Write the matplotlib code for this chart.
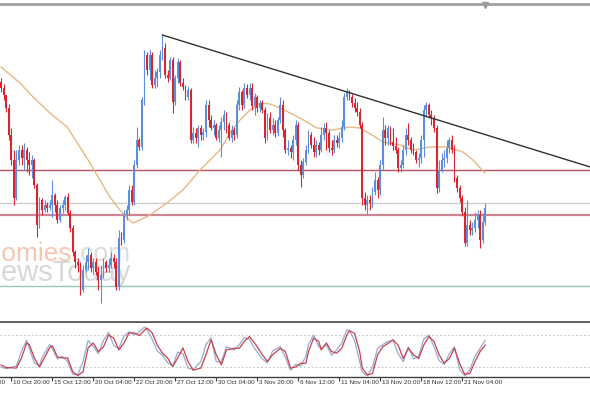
import matplotlib
matplotlib.use("Agg")
import matplotlib.pyplot as plt
import matplotlib.transforms as mtransforms
import numpy as np

# H4 candles, price in points
first_open = 248
closes = [242, 235, 222, 195, 170, 132, 170, 180, 172, 180,
          170, 165, 170, 145, 105, 130, 120, 125, 122, 125,
          135, 125, 110, 122, 125, 133, 117, 102, 78, 68,
          65, 40, 60, 68, 75, 62, 68, 58, 50, 55,
          68, 62, 65, 72, 68, 43, 92, 90, 115, 120,
          140, 128, 165, 190, 183, 230, 275, 260, 275, 245,
          252, 258, 275, 282, 255, 252, 270, 228, 252, 268,
          247, 243, 233, 240, 190, 197, 192, 202, 195, 198,
          225, 210, 202, 205, 192, 200, 208, 215, 205, 192,
          200, 195, 225, 238, 225, 242, 235, 242, 224, 233,
          222, 227, 220, 192, 212, 200, 205, 197, 210, 225,
          200, 180, 182, 178, 190, 205, 165, 155, 168, 180,
          195, 185, 178, 185, 180, 195, 202, 197, 182, 180,
          190, 187, 192, 203, 233, 238, 233, 227, 222, 218,
          205, 132, 125, 130, 127, 138, 150, 140, 165, 200,
          192, 202, 188, 184, 180, 162, 165, 180, 195, 190,
          180, 178, 170, 172, 190, 220, 225, 215, 212, 202,
          142, 160, 170, 172, 182, 190, 180, 152, 142, 132,
          118, 87, 105, 100, 102, 110, 115, 90, 108, 122]
highs = [252, 246, 235, 226, 202, 180, 180, 185, 185, 187,
         183, 178, 175, 172, 147, 133, 132, 130, 128, 130,
         150, 137, 130, 125, 130, 135, 137, 120, 105, 80,
         72, 68, 65, 75, 82, 78, 72, 72, 64, 65,
         72, 70, 72, 78, 76, 72, 100, 98, 120, 125,
         145, 145, 170, 203, 192, 233, 280, 278, 280, 278,
         260, 262, 280, 295, 287, 260, 273, 273, 255, 272,
         270, 252, 245, 244, 242, 203, 202, 205, 205, 202,
         230, 230, 215, 210, 207, 205, 213, 220, 218, 208,
         205, 203, 230, 243, 240, 247, 246, 247, 247, 237,
         235, 230, 230, 223, 217, 218, 212, 210, 213, 233,
         230, 202, 190, 185, 195, 210, 208, 170, 172, 185,
         200, 198, 193, 190, 188, 203, 207, 208, 200, 190,
         195, 195, 198, 210, 237, 242, 240, 236, 232, 228,
         222, 208, 138, 135, 135, 143, 158, 153, 170, 213,
         205, 205, 204, 202, 193, 183, 170, 185, 202, 207,
         193, 187, 180, 177, 195, 225, 228, 227, 220, 215,
         205, 170, 177, 180, 190, 193, 195, 185, 155, 145,
         135, 123, 130, 110, 108, 118, 120, 120, 117, 127]
lows = [238, 230, 218, 190, 165, 125, 130, 165, 165, 160,
        158, 155, 152, 142, 93, 102, 115, 118, 118, 120,
        113, 118, 107, 108, 117, 120, 115, 98, 74, 62,
        58, 35, 38, 58, 60, 58, 55, 55, 40, 27,
        52, 58, 58, 62, 62, 40, 40, 85, 87, 110,
        115, 125, 125, 162, 180, 180, 225, 255, 250, 242,
        242, 243, 252, 270, 252, 248, 250, 217, 225, 247,
        244, 240, 230, 230, 187, 187, 187, 183, 190, 190,
        193, 203, 200, 195, 190, 188, 173, 200, 197, 190,
        188, 190, 192, 220, 220, 222, 232, 230, 220, 215,
        218, 218, 217, 187, 190, 197, 195, 193, 194, 207,
        193, 177, 175, 172, 170, 185, 160, 143, 152, 165,
        177, 182, 173, 173, 175, 178, 190, 180, 178, 175,
        177, 183, 182, 188, 200, 230, 230, 223, 218, 214,
        202, 125, 120, 115, 120, 123, 135, 132, 135, 160,
        185, 185, 185, 180, 177, 158, 158, 162, 175, 185,
        177, 175, 167, 163, 167, 173, 213, 212, 205, 198,
        137, 138, 158, 163, 167, 177, 177, 148, 138, 128,
        114, 84, 84, 95, 95, 98, 102, 82, 87, 105]

# moving average, sampled along the bars
ma_bars = [0, 7.4, 12.5, 19.1, 25.8, 30.8, 34, 38.6, 42.5, 46.4,
           49.2, 51.5, 54.2, 58.1, 64.8, 71, 77.7, 85.5, 89.4, 93.3,
           97.2, 101.1, 105, 108.9, 112.8, 116.7, 123.3, 129.6, 136.2, 140.1,
           144.8, 149.1, 155.7, 160.8, 167.4, 174, 180.3, 184.2, 188.9]
ma_vals = [263, 247, 233, 217, 203, 183, 170, 150, 133, 120,
           112, 107, 110, 115, 127, 140, 160, 180, 197, 210,
           220, 227, 226, 222, 217, 212, 202, 200, 203, 202,
           195, 188, 185, 180, 183, 183, 178, 170, 157]

# stochastic oscillator
stoch_bars = [0, 2, 6, 8, 10, 11, 13, 15, 16, 19,
              20, 22, 24, 26, 28, 30, 32, 34, 36, 38,
              40, 42, 44, 46, 48, 50, 52, 54, 56, 57,
              59, 61, 63, 65, 67, 69, 71, 73, 75, 78,
              80, 82, 84, 86, 88, 91, 93, 95, 97, 99,
              102, 104, 106, 109, 111, 113, 115, 117, 119, 120,
              122, 124, 125, 127, 129, 131, 133, 135, 136, 138,
              140, 141, 143, 145, 147, 149, 151, 153, 155, 157,
              159, 161, 163, 165, 167, 169, 171, 173, 175, 177,
              179, 181, 183, 185, 187, 189]
stoch_d = [24, 19, 18, 37, 65, 62, 37, 20, 29, 56,
           60, 39, 37, 37, 11, 4, 11, 56, 65, 49,
           58, 80, 74, 52, 65, 84, 84, 79, 89, 93,
           84, 61, 46, 37, 21, 37, 56, 30, 14, 18,
           43, 71, 43, 24, 52, 55, 55, 68, 77, 65,
           43, 30, 43, 55, 49, 18, 20, 27, 27, 49,
           74, 68, 52, 65, 49, 46, 55, 80, 88, 83,
           49, 18, 5, 8, 43, 58, 64, 71, 61, 36,
           55, 43, 36, 61, 77, 68, 43, 27, 36, 55,
           27, 6, 8, 30, 49, 61]
stoch_k = [20, 17, 22, 50, 70, 55, 28, 22, 38, 62,
           55, 35, 40, 30, 6, 6, 30, 70, 58, 45,
           70, 85, 60, 55, 78, 86, 80, 86, 95, 90,
           72, 50, 42, 28, 22, 48, 45, 18, 15, 30,
           62, 75, 30, 30, 58, 52, 62, 75, 72, 55,
           35, 28, 50, 58, 38, 14, 25, 22, 40, 62,
           80, 58, 55, 62, 42, 52, 65, 90, 88, 70,
           30, 10, 4, 20, 55, 62, 68, 70, 45, 30,
           58, 35, 40, 72, 80, 58, 32, 25, 45, 58,
           15, 4, 15, 40, 55, 70]

tick_bars = [-12, 4, 20, 36, 52, 68, 84, 100, 116, 132, 148, 164, 180]
tick_labels = ["8 Oct 04:00", "10 Oct 20:00", "15 Oct 12:00", "20 Oct 04:00",
               "22 Oct 20:00", "27 Oct 12:00", "30 Oct 04:00", "3 Nov 20:00",
               "6 Nov 12:00", "11 Nov 04:00", "13 Nov 20:00", "18 Nov 12:00",
               "21 Nov 04:00"]

trend_bars = [63, 230]
trend_prices = [295, 163]
resistance = 160
pivot = 127
support = 115
support_low = 44

plt.rcParams['font.family'] = ['Liberation Sans', 'DejaVu Sans']

fig = plt.figure(figsize=(5.9, 3.93), dpi=100)
ax = fig.add_axes([0, 0.18066, 1, 0.80916])
ax2 = fig.add_axes([0, 0.04071, 1, 0.1374], sharex=ax)

# watermark
ax.text(73 / 590, 1 - 261 / 393, "economies", transform=fig.transFigure,
        ha='right', va='baseline', fontsize=19, color='#f5c6b1', zorder=0)
ax.text(74 / 590, 1 - 261 / 393, ".com", transform=fig.transFigure,
        ha='left', va='baseline', fontsize=19, color='#dcdcdc', zorder=0)
ax.text(131 / 590, 1 - 281 / 393, "NewsToday", transform=fig.transFigure,
        ha='right', va='baseline', fontsize=21, color='#d8d8d8', zorder=0)

# levels
ax.axhline(resistance, color='#b9525f', lw=1, zorder=1)
ax.axhline(pivot, color='#cccccc', lw=1, zorder=1)
ax.axhline(support, color='#cd8593', lw=1.6, zorder=1)
ax.axhline(support_low, color='#93cbbb', lw=1, zorder=1)
ax.plot(trend_bars, trend_prices, color='#303030', lw=1, zorder=4)
ax.plot(ma_bars, ma_vals, color='#e6b982', lw=1, zorder=2)

# candles
n = len(closes)
x = np.arange(n)
opens = [first_open] + closes[:-1]
o = np.array(opens)
c = np.array(closes)
h = np.maximum(np.array(highs), np.maximum(o, c))
l = np.minimum(np.array(lows), np.minimum(o, c))
colors = ['#5b8fdb' if cc >= oo else '#d7262d' for oo, cc in zip(o, c)]
ax.vlines(x, l, h, colors=colors, lw=0.8, zorder=3)
ax.bar(x, np.maximum(np.abs(c - o), 1.2), 0.72, bottom=np.minimum(o, c),
       color=colors, lw=0, zorder=3)

ax.set_xlim(-0.4, 229.9)
ax.set_ylim(8, 326)
for s in ['left', 'right']:
    ax.spines[s].set_visible(False)
ax.spines['top'].set_color('#a0a0a0')
ax.spines['top'].set_linewidth(2)
ax.spines['bottom'].set_color('#5a5a5a')
ax.spines['bottom'].set_linewidth(2)
ax.tick_params(left=False, bottom=False, labelleft=False, labelbottom=False)
ax.plot([189], [325], marker='v', color='#9a9a9a', ms=4, clip_on=False, zorder=5)

# stochastic panel
ax2.axhline(80, color='#c8c8c8', lw=0.7, ls=(0, (2, 2)))
ax2.axhline(20, color='#c8c8c8', lw=0.7, ls=(0, (2, 2)))
ax2.plot(stoch_bars, stoch_k, color='#95acd0', lw=0.9)
ax2.plot(stoch_bars, stoch_d, color='#c8404f', lw=0.9)
ax2.set_ylim(1.25, 102.5)
for s in ['left', 'right', 'top']:
    ax2.spines[s].set_visible(False)
ax2.spines['bottom'].set_color('#404040')
ax2.spines['bottom'].set_linewidth(1)
ax2.set_yticks([])
ax2.set_xticks([b for b in tick_bars if b >= 0])
ax2.tick_params(axis='x', length=3, width=0.8, color='#404040', labelbottom=False)

offset = mtransforms.ScaledTranslation(2 / 100, 0, fig.dpi_scale_trans)
trans = mtransforms.blended_transform_factory(ax2.transData, ax2.transAxes) + offset
for b, lab in zip(tick_bars, tick_labels):
    ax2.text(b, -0.06, lab, transform=trans, ha='left', va='top',
             fontsize=4.6, color='#303030', clip_on=False)

fig.savefig("out.png", dpi=100, facecolor='white')
